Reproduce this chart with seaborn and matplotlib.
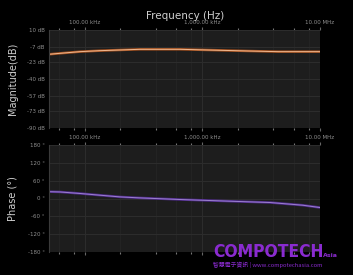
import numpy as np
import pandas as pd
import matplotlib
matplotlib.use("Agg")
import matplotlib.pyplot as plt
import seaborn as sns
from matplotlib.ticker import FixedLocator, NullFormatter
import logging
logging.getLogger("matplotlib.font_manager").setLevel(logging.ERROR)

# ---- data ----
mag_freq_hz = [49.4e3, 61.3e3, 90.7e3, 134e3, 198e3, 294e3, 643e3, 1.1e6, 2.4e6, 4.4e6, 10e6]
mag_db = [-14.8, -13.8, -12.1, -11.1, -10.4, -9.7, -9.7, -10.4, -11.4, -12.1, -12.1]

phase_freq_hz = [49.4e3, 61.3e3, 90.7e3, 134e3, 198e3, 294e3, 643e3, 952e3, 1.71e6, 3.75e6, 7.13e6, 10e6]
phase_deg = [22.9, 22.0, 16.9, 11.1, 5.4, 2.0, -3.4, -5.7, -9.1, -13.5, -22.6, -30.4]

x_ticks_hz = [1e5, 1e6, 1e7]
x_tick_labels = ["100.00 kHz", "1,000.00 kHz", "10.00 MHz"]
mag_ticks = [10, -7, -23, -40, -57, -73, -90]
mag_tick_labels = ["10 dB", "-7 dB", "-23 dB", "-40 dB", "-57 dB", "-73 dB", "-90 dB"]
phase_ticks = [180, 120, 60, 0, -60, -120, -180]
phase_tick_labels = ["180 °", "120 °", "60 °", "0 °", "-60 °", "-120 °", "-180 °"]

mag_df = pd.DataFrame({"freq": mag_freq_hz, "mag": mag_db})
ph_df = pd.DataFrame({"freq": phase_freq_hz, "phase": phase_deg})

sns.set_theme(style="dark")
plt.rcParams["font.family"] = ["DejaVu Sans"]

fig = plt.figure(figsize=(3.53, 2.75), dpi=100, facecolor="black")
ax1 = fig.add_axes([49 / 353, 1 - 128 / 275, 271 / 353, 98 / 275])
ax2 = fig.add_axes([49 / 353, 1 - 252 / 275, 271 / 353, 107 / 275])

face = "#1d1d1d"
grid_c = "#2d2d2d"
tick_c = "#8e8e8e"
label_c = "#cfcfcf"
minor = [m * 10 ** e for e in (4, 5, 6) for m in (2, 4, 6, 8) if 5e4 <= m * 10 ** e <= 1e7]

for ax in (ax1, ax2):
    ax.set_facecolor(face)
    ax.set_xscale("log")
    ax.set_xlim(4.94e4, 1e7)
    ax.xaxis.set_major_locator(FixedLocator(x_ticks_hz))
    ax.set_xticklabels(x_tick_labels)
    ax.xaxis.set_minor_locator(FixedLocator(minor))
    ax.xaxis.set_minor_formatter(NullFormatter())
    ax.tick_params(axis="x", which="both", top=True, bottom=True, labeltop=True,
                   labelbottom=False, colors=tick_c, labelsize=4, pad=1.5)
    ax.tick_params(axis="x", which="major", length=2, width=0.8, color="#666666")
    ax.tick_params(axis="x", which="minor", length=1.5, width=0.8, color="#777777")
    ax.tick_params(axis="y", colors=tick_c, labelsize=4, length=1.5, pad=1.5, color="#666666")
    ax.grid(True, which="major", color=grid_c, linewidth=0.7)
    ax.grid(True, which="minor", axis="x", color="#262626", linewidth=0.5)
    for s in ax.spines.values():
        s.set_visible(False)
    ax.spines["left"].set_visible(True)
    ax.spines["left"].set_color("#3a3a3a")
    ax.spines["left"].set_linewidth(0.8)

# magnitude
sns.lineplot(data=mag_df, x="freq", y="mag", ax=ax1, color="#a4501e", linewidth=1.8)
sns.lineplot(data=mag_df, x="freq", y="mag", ax=ax1, color="#f0b890", linewidth=0.7)
ax1.set_ylim(-90, 10)
ax1.set_yticks(mag_ticks)
ax1.set_yticklabels(mag_tick_labels)
ax1.set_xlabel("")
ax1.set_ylabel("Magnitude(dB)", color=label_c, fontsize=7, labelpad=4)

# phase
sns.lineplot(data=ph_df, x="freq", y="phase", ax=ax2, color="#4e2a8a", linewidth=1.8)
sns.lineplot(data=ph_df, x="freq", y="phase", ax=ax2, color="#9c80d0", linewidth=0.7)
ax2.set_ylim(-180, 180)
ax2.set_yticks(phase_ticks)
ax2.set_yticklabels(phase_tick_labels)
ax2.set_xlabel("")
ax2.set_ylabel("Phase (°)", color=label_c, fontsize=7, labelpad=6)

ax1.yaxis.set_label_coords(-0.115, 0.5)
ax2.yaxis.set_label_coords(-0.115, 0.5)

# title
fig.text(185 / 353, 1 - 16 / 275, "Frequency (Hz)", color=label_c, fontsize=7.5,
         ha="center", va="center")

# watermark
fig.text(213 / 353, 1 - 257 / 275, "COMPOTECH", color="#8a2bd0", fontsize=12.5,
         fontweight="bold", fontstretch="condensed",
         family=["DejaVu Sans Condensed", "DejaVu Sans"],
         va="baseline", ha="left")
fig.text(323 / 353, 1 - 257 / 275, "Asia", color="#8a2bd0", fontsize=4.5,
         fontweight="bold", va="baseline", ha="left")
fig.text(213 / 353, 1 - 267 / 275, "智慧電子資訊 | www.compotechasia.com", color="#8a2bd0",
         fontsize=4.2, family=["Noto Sans CJK TC", "DejaVu Sans"], va="baseline", ha="left")

fig.savefig("out.png", dpi=100, facecolor="black")
